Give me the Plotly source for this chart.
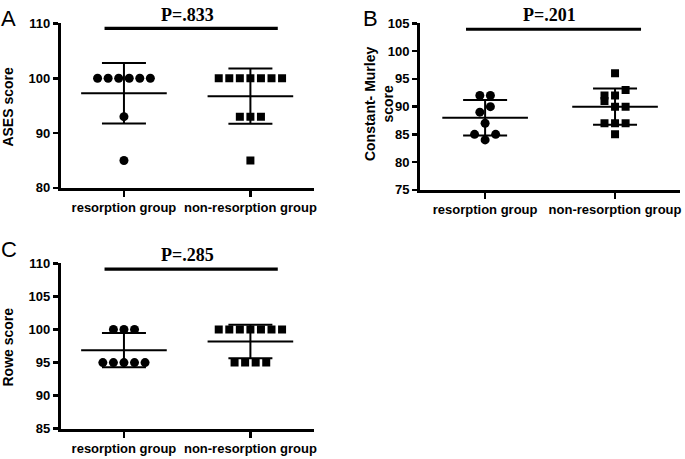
import numpy as np
import plotly.graph_objects as go

# ---------------- data ----------------
categories = ["resorption group", "non-resorption group"]

ases_resorption = [100, 100, 100, 100, 100, 100, 93, 85]
ases_non_resorption = [100, 100, 100, 100, 100, 100, 100, 93, 93, 93, 85]

cm_resorption = [92, 92, 89, 90, 87, 85, 84, 85]
cm_non_resorption = [96, 92, 92, 93, 91, 90, 90, 87, 87, 87, 85]

rowe_resorption = [100, 100, 100, 95, 95, 95, 95, 95]
rowe_non_resorption = [100, 100, 100, 100, 100, 100, 100, 95, 95, 95, 95]

p_labels = ["P=.833", "P=.201", "P=.285"]
y_titles = ["ASES score", "Constant- Murley<br>score", "Rowe score"]
panel_letters = ["A", "B", "C"]
y_ranges = [(80, 110), (75, 105), (85, 110)]
y_dticks = [10, 5, 5]

# ---------------- layout geometry (pixels) ----------------
W, H = 685, 459
# (x_left, x_right, y_top_px, y_bottom_px)
boxes = [(61, 315, 17, 187), (422, 683, 17, 189), (61, 315, 265, 436)]
sig_y_px = [22, 23, 271]
p_text_px = [(188, 8), (552, 8), (188, 256)]
letter_px = [(9, 12), (372, 12), (9, 251)]
ytitle_px = [(8, 103), (380, 100), (8, 351)]

FONT = "Liberation Sans, Arial, Helvetica, sans-serif"
SERIF = "Liberation Serif, Times New Roman, serif"
DOT_SPACING = 10.6  # px


def swarm_offsets(vals, y_px_per_unit, x_px_per_unit, spacing):
    n = len(vals)
    order = sorted(range(n), key=lambda i: -vals[i])
    rows = []
    for i in order:
        if rows and (vals[rows[-1][0]] - vals[i]) * y_px_per_unit < spacing:
            rows[-1].append(i)
        else:
            rows.append([i])
    offs = [0.0] * n
    for row in rows:
        row = sorted(row)
        m = len(row)
        for k, i in enumerate(row):
            offs[i] = (k - (m - 1) / 2) * spacing / x_px_per_unit
    return offs


panels = [
    (ases_resorption, ases_non_resorption),
    (cm_resorption, cm_non_resorption),
    (rowe_resorption, rowe_non_resorption),
]

fig = go.Figure()
layout = dict(
    width=W, height=H, margin=dict(l=0, r=0, t=0, b=0),
    paper_bgcolor="white", plot_bgcolor="white", showlegend=False,
    annotations=[], shapes=[],
)

for p, (groups, box) in enumerate(zip(panels, boxes)):
    xl, xr, yt, yb = box
    y0, y1 = y_ranges[p]
    x_px_unit = (xr - xl) / 2.0
    y_px_unit = (yb - yt) / (y1 - y0)
    sfx = "" if p == 0 else str(p + 1)
    xa, ya = "x" + sfx, "y" + sfx

    for g, vals in enumerate(groups):
        vals = np.array(vals, dtype=float)
        offs = swarm_offsets(list(vals), y_px_unit, x_px_unit, DOT_SPACING)
        mean = vals.mean()
        sd = vals.std(ddof=1)
        # points
        fig.add_trace(go.Scatter(
            x=[g + o for o in offs], y=vals, mode="markers",
            marker=dict(symbol="circle" if g == 0 else "square",
                        size=9 if g == 0 else 8, color="black"),
            xaxis=xa, yaxis=ya, hoverinfo="skip"))
        # mean line
        half = 43 / x_px_unit
        fig.add_trace(go.Scatter(
            x=[g - half, g + half], y=[mean, mean], mode="lines",
            line=dict(color="black", width=2),
            xaxis=xa, yaxis=ya, hoverinfo="skip"))
        # SD error bar
        fig.add_trace(go.Scatter(
            x=[g], y=[mean], mode="markers",
            marker=dict(size=1, color="rgba(0,0,0,0)"),
            error_y=dict(type="data", array=[sd], visible=True,
                         width=22, thickness=2, color="black"),
            xaxis=xa, yaxis=ya, hoverinfo="skip"))

    xdom = [xl / W, xr / W]
    ydom = [(H - yb) / H, (H - yt) / H]
    layout["xaxis" + sfx] = dict(
        domain=xdom, anchor=ya, range=[-0.5, 1.5],
        tickvals=[0, 1], ticktext=categories,
        showline=True, linewidth=3, linecolor="black",
        ticks="outside", ticklen=6, tickwidth=2.5, tickcolor="black",
        tickfont=dict(family=FONT, size=13, color="black", weight="bold"),
        showgrid=False, zeroline=False, fixedrange=True)
    layout["yaxis" + sfx] = dict(
        domain=ydom, anchor=xa, range=[y0, y1], dtick=y_dticks[p], tick0=y0,
        showline=True, linewidth=3, linecolor="black",
        ticks="outside", ticklen=5, tickwidth=2.5, tickcolor="black",
        tickfont=dict(family=FONT, size=13, color="black", weight="bold"),
        showgrid=False, zeroline=False, fixedrange=True)

    # significance bar
    sig_val = y1 - (sig_y_px[p] - yt) / y_px_unit
    layout["shapes"].append(dict(
        type="line", xref=xa, yref=ya,
        x0=(105 - 61) / 127 - 0.5 if p != 1 else -0.147,
        x1=(279 - 61) / 127 - 0.5 if p != 1 else 1.20,
        y0=sig_val, y1=sig_val, line=dict(color="black", width=3.2)))

    # p label
    px_, py_ = p_text_px[p]
    layout["annotations"].append(dict(
        text="<b>%s</b>" % p_labels[p], xref="paper", yref="paper",
        x=px_ / W, y=1 - py_ / H, xanchor="center", yanchor="middle",
        showarrow=False, font=dict(family=SERIF, size=18, color="black")))
    # panel letter
    lx, ly = letter_px[p]
    layout["annotations"].append(dict(
        text=panel_letters[p], xref="paper", yref="paper",
        x=lx / W, y=1 - ly / H, xanchor="center", yanchor="middle",
        showarrow=False, font=dict(family=FONT, size=22, color="black")))
    # y title
    tx, ty = ytitle_px[p]
    layout["annotations"].append(dict(
        text="<b>%s</b>" % y_titles[p], xref="paper", yref="paper",
        x=tx / W, y=1 - ty / H, xanchor="center", yanchor="middle",
        textangle=-90, showarrow=False,
        font=dict(family=FONT, size=14, color="black")))

fig.update_layout(**layout)
fig.write_html("out.html",
               config={"displayModeBar": False, "staticPlot": True},
               post_script="document.body.style.margin='0px';"
                           "document.body.style.overflow='hidden';")
